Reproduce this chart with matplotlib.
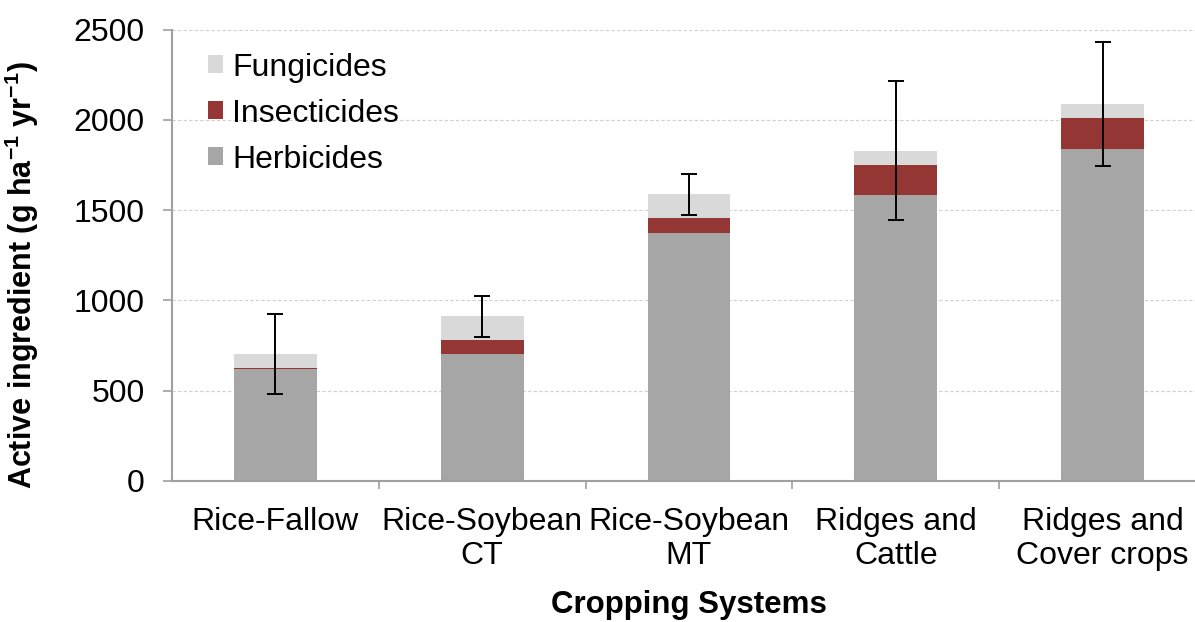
import matplotlib
matplotlib.use("Agg")
import matplotlib.pyplot as plt
import numpy as np

# values (g ha-1 yr-1)
systems = ["Rice-Fallow", "Rice-Soybean\nCT", "Rice-Soybean\nMT",
           "Ridges and\nCattle", "Ridges and\nCover crops"]
herbicides = [620, 701, 1373, 1585, 1837]
insecticides = [8, 78, 83, 163, 171]
fungicides = [73, 133, 131, 81, 81]
errors = [221, 115, 112, 384, 344]

plt.rcParams['font.family'] = ['Liberation Sans', 'DejaVu Sans']
plt.rcParams['mathtext.fontset'] = 'custom'
plt.rcParams['mathtext.rm'] = 'Liberation Sans'
plt.rcParams['mathtext.bf'] = 'Liberation Sans:bold'

fig = plt.figure(figsize=(11.95, 6.22), dpi=100)
ax = fig.add_axes([172 / 1195, 141 / 622, 1034 / 1195, 451.5 / 622])

x = np.arange(len(systems))
herb = np.array(herbicides)
ins = np.array(insecticides)
fung = np.array(fungicides)
total = herb + ins + fung

w = 0.40
ax.bar(x, herb, w, color='#A6A6A6', label='Herbicides', zorder=2)
ax.bar(x, ins, w, bottom=herb, color='#943634', label='Insecticides', zorder=2)
ax.bar(x, fung, w, bottom=herb + ins, color='#D9D9D9', label='Fungicides', zorder=2)
ax.errorbar(x, total, yerr=errors, fmt='none', ecolor='black', elinewidth=1.4,
            capsize=6, capthick=1.4, zorder=3)

ax.set_xlim(-0.5, len(systems) - 0.5)
ax.set_ylim(0, 2500)
ax.set_yticks(np.arange(0, 2501, 500))
ax.yaxis.grid(True, color='#D0D0D0', linestyle=(0, (3, 2)), linewidth=0.8, zorder=0)
ax.set_axisbelow(True)

ax.set_xticks(x)
ax.set_xticklabels(systems, fontsize=23, linespacing=1.15)
ax.set_xticks(np.arange(0.5, len(systems) - 0.5, 1), minor=True)
ax.tick_params(axis='x', which='major', length=0, pad=19)
ax.tick_params(axis='x', which='minor', length=6, color='#A0A0A0', width=1.2)
ax.tick_params(axis='y', labelsize=23, length=6.5, color='#A0A0A0', width=1.2, pad=13)

for s in ['top', 'right']:
    ax.spines[s].set_visible(False)
for s in ['left', 'bottom']:
    ax.spines[s].set_color('#A0A0A0')
    ax.spines[s].set_linewidth(1.5)

ax.set_ylabel(r'Active ingredient (g ha$^{\mathbf{-1}}$ yr$^{\mathbf{-1}}$)',
              fontsize=22, fontweight='bold')
ax.yaxis.set_label_coords(-0.127, 0.455)
ax.set_xlabel('Cropping Systems', fontsize=22.5, fontweight='bold', labelpad=14)

handles, labels = ax.get_legend_handles_labels()
ax.legend(handles[::-1], labels[::-1], loc='upper left', bbox_to_anchor=(0.022, 0.977),
          frameon=False, fontsize=23, handlelength=0.5, handleheight=0.5,
          handletextpad=0.28, labelspacing=0.5, borderaxespad=0)

fig.savefig('out.png', dpi=100)
